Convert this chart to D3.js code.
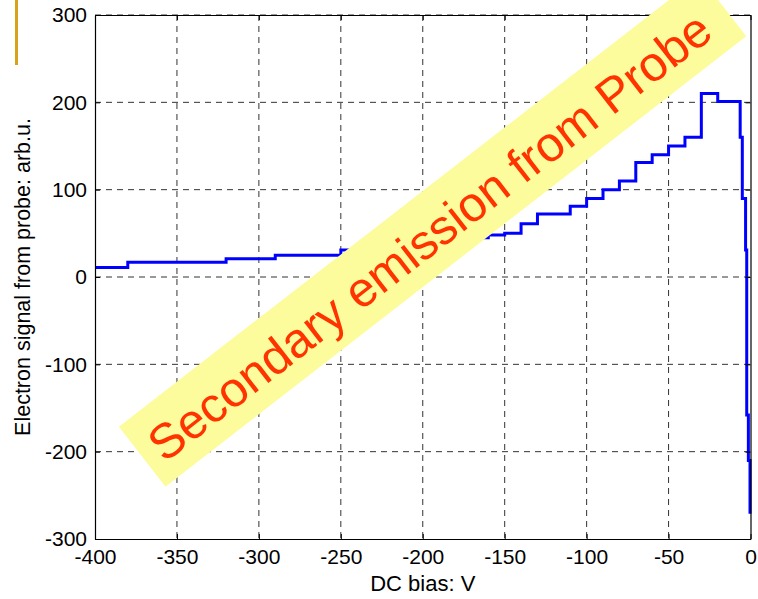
<!DOCTYPE html>
<html>
<head>
<meta charset="utf-8">
<script src="https://cdn.jsdelivr.net/npm/d3@7"></script>
<style>
  html, body { margin: 0; padding: 0; background: #fff; }
  svg { display: block; }
  text { font-family: "Liberation Sans", Arial, Helvetica, sans-serif; }
</style>
</head>
<body>
<svg id="chart" width="758" height="599"></svg>
<script>
// DC bias sweep (V) and the stepwise electron signal read at each step (arb.u.)
const biasVolts = [-400, -380, -320, -290, -250, -230, -210, -190, -175, -160, -150, -140, -130, -110, -100, -90, -80, -70, -60, -50, -40, -30, -20, -6.3, -5, -3, -2.3, -1.3, -0.3];
const signal    = [  11,   17,   21,   25,   31,   34,   38,   42,   45,   48,   50,   61,   72,   81,   90, 100, 110, 131, 140, 150, 160, 210, 201,  160,  90,  31, -158, -210, -271];

const xTicks = [-400, -350, -300, -250, -200, -150, -100, -50, 0];
const yTicks = [-300, -200, -100, 0, 100, 200, 300];

const bannerText = "Secondary emission from Probe";
const xLabel = "DC bias: V";
const yLabel = "Electron signal from probe: arb.u.";

const svg = d3.select("#chart");
const plot = { left: 95, right: 750.5, top: 15, bottom: 539 };

const x = d3.scaleLinear().domain([-400, 0]).range([plot.left, plot.right]);
const y = d3.scaleLinear().domain([-300, 300]).range([plot.bottom, plot.top]);

// dashed grid
const grid = svg.append("g").attr("stroke", "#333").attr("stroke-width", 1)
  .attr("stroke-dasharray", "6,5").attr("fill", "none");
grid.selectAll("line.v").data(xTicks.slice(1, -1)).join("line")
  .attr("x1", d => x(d)).attr("x2", d => x(d))
  .attr("y1", plot.top).attr("y2", plot.bottom);
grid.selectAll("line.h").data(yTicks.slice(1, -1).concat([300])).join("line")
  .attr("y1", d => y(d)).attr("y2", d => y(d))
  .attr("x1", plot.left).attr("x2", plot.right);

// signal trace
const pts = biasVolts.map((v, i) => [v, signal[i]]);
svg.append("path")
  .datum(pts)
  .attr("fill", "none")
  .attr("stroke", "#0000ff")
  .attr("stroke-width", 3)
  .attr("stroke-linejoin", "miter")
  .attr("d", d3.line().x(d => x(d[0])).y(d => y(d[1])).curve(d3.curveStepAfter));

// axes with inward ticks, box on all sides
const tickLen = 5;
const fmt = d => String(d);
const axB = svg.append("g").attr("transform", `translate(0,${plot.bottom})`)
  .call(d3.axisBottom(x).tickValues(xTicks).tickFormat(fmt).tickSizeInner(-tickLen).tickSizeOuter(0).tickPadding(10));
const axL = svg.append("g").attr("transform", `translate(${plot.left},0)`)
  .call(d3.axisLeft(y).tickValues(yTicks).tickFormat(fmt).tickSizeInner(-tickLen).tickSizeOuter(0).tickPadding(8));
const axT = svg.append("g").attr("transform", `translate(0,${plot.top})`)
  .call(d3.axisTop(x).tickValues(xTicks).tickSizeInner(-tickLen).tickSizeOuter(0).tickFormat(""));
const axR = svg.append("g").attr("transform", `translate(${plot.right},0)`)
  .call(d3.axisRight(y).tickValues(yTicks).tickSizeInner(-tickLen).tickSizeOuter(0).tickFormat(""));

[axB, axL, axT, axR].forEach(a => {
  a.select(".domain").attr("stroke", "#000").attr("stroke-width", 1.2);
  a.selectAll(".tick line").attr("stroke", "#000");
  a.selectAll(".tick text").attr("font-size", 21).attr("fill", "#000")
    .style("font-family", '"Liberation Sans", Arial, sans-serif');
});

// axis titles
svg.append("text")
  .attr("x", (plot.left + plot.right) / 2).attr("y", 591)
  .attr("text-anchor", "middle").attr("font-size", 22).text(xLabel);
svg.append("text")
  .attr("transform", `translate(30,${(plot.top + plot.bottom) / 2}) rotate(-90)`)
  .attr("text-anchor", "middle").attr("font-size", 21.5).text(yLabel);

// small accent bar at top-left
svg.append("rect").attr("x", 15).attr("y", 0).attr("width", 3).attr("height", 65)
  .attr("fill", "#d8a31a");

// diagonal banner
const banner = svg.append("g").attr("transform", "translate(118.9,426.7) rotate(-37.8)");
banner.append("rect").attr("x", 0).attr("y", 0).attr("width", 735).attr("height", 76)
  .attr("fill", "#fcfc9c");
banner.append("text")
  .attr("x", 362).attr("y", 57)
  .attr("text-anchor", "middle")
  .attr("font-size", 49)
  .attr("fill", "#ff3300")
  .text(bannerText);
</script>
</body>
</html>
